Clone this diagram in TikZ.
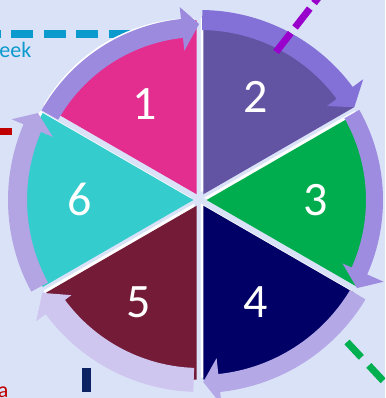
\documentclass[tikz,border=0pt]{standalone}
\usepackage{fontspec}
\setmainfont{Carlito}
\definecolor{bgc}{HTML}{DAE2F8}
\definecolor{wkblue}{HTML}{0A9ACD}
\definecolor{lnpurple}{HTML}{9900CC}
\definecolor{lngreen}{HTML}{00B050}
\definecolor{lnnavy}{HTML}{0C2262}
\definecolor{lnred}{HTML}{C00000}
\definecolor{wA}{HTML}{E32D8F}
\definecolor{wB}{HTML}{6354A3}
\definecolor{wC}{HTML}{00AD4E}
\definecolor{wD}{HTML}{000066}
\definecolor{wE}{HTML}{731B37}
\definecolor{wF}{HTML}{34CCCC}
\definecolor{aA}{HTML}{9C8ADF}
\definecolor{aB}{HTML}{8371D7}
\definecolor{aC}{HTML}{9E8CE0}
\definecolor{aD}{HTML}{B4A8E6}
\definecolor{aE}{HTML}{CFC6EF}
\definecolor{aF}{HTML}{B3A5E3}
% wedge: #1 start angle, #2 end angle, #3 colour
\newcommand\piewedge[3]{%
  \pgfmathsetmacro\wmid{(#1+#2)/2}%
  \fill[white,shift={(\wmid:6.6pt)},shift={(-2.4pt,2.2pt)}] (0,0) -- (#1:174pt) arc[start angle=#1,end angle=#2,radius=174pt] -- cycle;
  \fill[#3,shift={(\wmid:6.6pt)}] (0,0) -- (#1:174pt) arc[start angle=#1,end angle=#2,radius=174pt] -- cycle;}
% arrow: start, head base, tip, r inner, r outer, barb inner, barb outer, tip r, colour
\newcommand\cyclearrow[9]{%
  \fill[#9] (#1:#5pt) arc[start angle=#1,end angle=#2,radius=#5pt] -- (#2:#7pt) -- (#3:#8pt) -- (#2:#6pt) -- (#2:#4pt) arc[start angle=#2,end angle=#1,radius=#4pt] -- cycle;}
\begin{document}
\begin{tikzpicture}[x=1pt,y=1pt,
  numlbl/.style={text=white,font=\fontsize{48}{48}\selectfont,inner sep=0pt},
  dashline/.style={line width=7pt}]
\useasboundingbox (0,0) rectangle (385,398);
\clip (0,0) rectangle (385,398);
\fill[bgc] (0,0) rectangle (385,398);
% blue dashed line to the left label
\coordinate (bl1) at (-21.5,364);
\coordinate (bl2) at (170,364);
\draw[wkblue,line width=7.5pt,dash pattern=on 22pt off 10.5pt] (bl1) -- (bl2);
\node[wkblue,anchor=base west,inner sep=0pt,font=\fontsize{22}{22}\selectfont] (wk) at (-19.6,340) {Week};
% red dash at left
\coordinate (rd1) at (-5,266.5);
\coordinate (rd2) at (12,266.5);
\draw[lnred,dashline] (rd1) -- (rd2);
\node[lnred,anchor=base east,inner sep=0pt,font=\fontsize{22}{22}\selectfont] (ra) at (8.5,1) {a};
% navy dash at bottom
\coordinate (nv1) at (86.5,30);
\coordinate (nv2) at (86.5,6);
\draw[lnnavy,line width=9pt] (nv1) -- (nv2);
\begin{scope}[shift={(200,198)}]
  \piewedge{90}{150}{wA}
  \piewedge{30}{90}{wB}
  \piewedge{-30}{30}{wC}
  \piewedge{-90}{-30}{wD}
  \piewedge{-150}{-90}{wE}
  \piewedge{150}{210}{wF}
  \cyclearrow{150.5}{96}{90.3}{163}{182}{150}{194}{176}{aA}
  \cyclearrow{89.3}{36.5}{31}{170}{190}{158}{203}{180}{aB}
  \cyclearrow{29.5}{-24}{-29.3}{166}{183}{156}{201}{180}{aC}
  \cyclearrow{-31}{-84}{-89}{175}{193}{159}{206}{182}{aD}
  \cyclearrow{-92}{-143.5}{-149.5}{168}{192}{160}{204}{183}{aE}
  \cyclearrow{208.5}{156.8}{151.8}{173}{192}{160}{205}{184}{aF}
\end{scope}
\node[numlbl] (n1) at (145,294) {1};
\node[numlbl] (n2) at (256,301) {2};
\node[numlbl] (n3) at (316,198) {3};
\node[numlbl] (n4) at (256,96) {4};
\node[numlbl] (n5) at (139,96) {5};
\node[numlbl] (n6) at (80,199) {6};
% purple dashed line
\coordinate (pp1) at (276,346);
\coordinate (pp2) at (325,409);
\draw[lnpurple,dashline,dash pattern=on 24pt off 7pt] (pp1) -- (pp2);
% green dashed line
\coordinate (gr1) at (347,56);
\coordinate (gr2) at (402,-3);
\draw[lngreen,dashline,dash pattern=on 21pt off 11pt] (gr1) -- (gr2);
\end{tikzpicture}
\end{document}
